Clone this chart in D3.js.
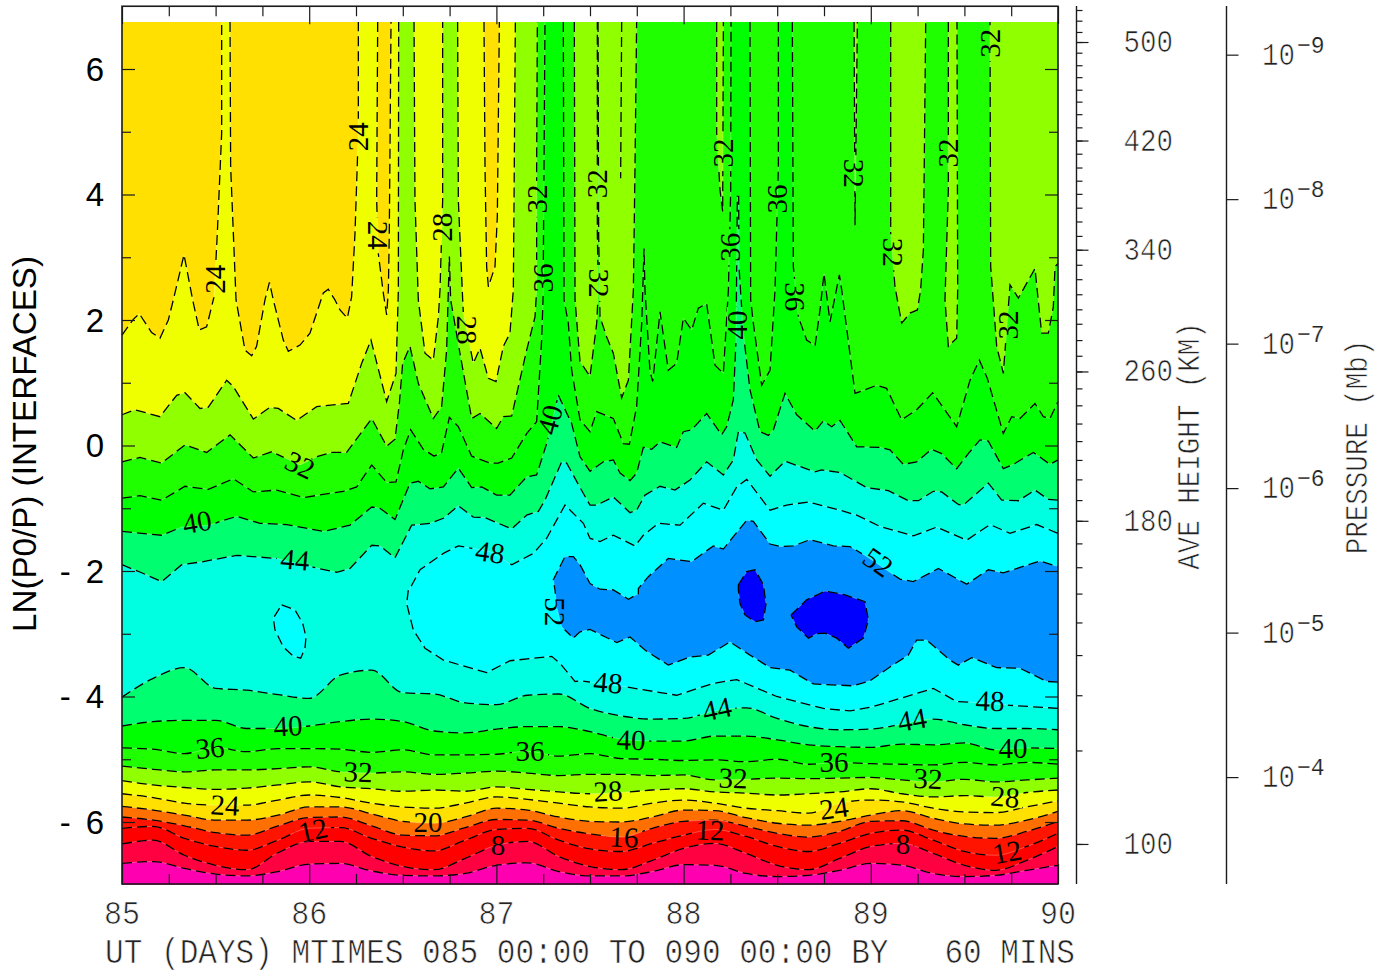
<!DOCTYPE html>
<html><head><meta charset="utf-8">
<script src="https://cdn.jsdelivr.net/npm/d3@7/dist/d3.min.js"></script>
<style>html,body{margin:0;padding:0;background:#fff}svg{display:block}text{white-space:pre}</style>
</head><body><svg id="c" width="1387" height="973"></svg>
<script>
// hours since start of day 85; LN(P0/P)
const TOP = 6.75;
const gridHours = d3.range(0, 121, 4);
const lower4 = [-6.66,-6.63,-6.74,-6.83,-6.86,-6.79,-6.67,-6.66,-6.78,-6.85,-6.86,-6.82,-6.69,-6.65,-6.79,-6.86,-6.86,-6.79,-6.68,-6.69,-6.82,-6.87,-6.85,-6.77,-6.66,-6.69,-6.82,-6.87,-6.85,-6.77,-6.69];
const lower8 = [-6.35,-6.29,-6.53,-6.69,-6.76,-6.49,-6.31,-6.31,-6.55,-6.71,-6.76,-6.58,-6.37,-6.31,-6.55,-6.71,-6.76,-6.61,-6.42,-6.34,-6.50,-6.69,-6.76,-6.58,-6.39,-6.34,-6.50,-6.69,-6.77,-6.61,-6.39];
const lower12 = [-6.10,-6.07,-6.26,-6.39,-6.45,-6.29,-6.10,-6.09,-6.26,-6.40,-6.46,-6.29,-6.12,-6.10,-6.29,-6.43,-6.47,-6.34,-6.21,-6.12,-6.23,-6.39,-6.47,-6.34,-6.18,-6.13,-6.29,-6.47,-6.53,-6.39,-6.18];
const lower16 = [-5.92,-5.97,-6.06,-6.17,-6.21,-6.06,-5.93,-5.92,-6.06,-6.21,-6.22,-6.09,-5.96,-5.97,-6.10,-6.19,-6.24,-6.10,-5.99,-5.97,-6.07,-6.18,-6.24,-6.15,-5.99,-5.98,-6.13,-6.23,-6.26,-6.15,-5.99];
const lower20 = [-5.75,-5.81,-5.89,-5.97,-5.97,-5.89,-5.76,-5.76,-5.87,-5.99,-6.02,-5.92,-5.78,-5.81,-5.92,-5.99,-6.00,-5.92,-5.81,-5.82,-5.93,-6.02,-6.05,-5.99,-5.89,-5.82,-5.94,-6.03,-6.05,-5.97,-5.83];
const lower24 = [-5.55,-5.61,-5.70,-5.73,-5.73,-5.65,-5.57,-5.61,-5.70,-5.76,-5.78,-5.70,-5.60,-5.64,-5.70,-5.76,-5.78,-5.70,-5.65,-5.70,-5.78,-5.82,-5.86,-5.70,-5.65,-5.68,-5.78,-5.84,-5.85,-5.76,-5.66];
const lower28 = [-5.34,-5.41,-5.45,-5.48,-5.46,-5.41,-5.36,-5.44,-5.47,-5.51,-5.49,-5.51,-5.44,-5.48,-5.52,-5.55,-5.53,-5.49,-5.47,-5.52,-5.54,-5.57,-5.55,-5.52,-5.47,-5.55,-5.60,-5.58,-5.60,-5.53,-5.49];
const lower32 = [-5.11,-5.16,-5.20,-5.17,-5.17,-5.15,-5.12,-5.20,-5.22,-5.20,-5.24,-5.22,-5.19,-5.22,-5.26,-5.24,-5.24,-5.26,-5.25,-5.33,-5.32,-5.30,-5.31,-5.30,-5.29,-5.33,-5.36,-5.32,-5.36,-5.33,-5.30];
const lower36 = [-4.82,-4.84,-4.91,-4.81,-4.88,-4.83,-4.83,-4.84,-4.89,-4.85,-4.93,-4.93,-4.92,-4.87,-4.95,-4.91,-4.99,-5.00,-5.02,-5.01,-5.04,-5.00,-5.08,-5.05,-5.07,-5.08,-5.09,-5.05,-5.09,-5.05,-5.08];
const lower40 = [-4.47,-4.40,-4.38,-4.38,-4.51,-4.51,-4.47,-4.40,-4.36,-4.40,-4.55,-4.58,-4.52,-4.48,-4.48,-4.56,-4.68,-4.71,-4.71,-4.63,-4.63,-4.69,-4.77,-4.80,-4.81,-4.76,-4.77,-4.74,-4.85,-4.82,-4.83];
const lower44 = [-4.01,-3.71,-3.54,-3.87,-3.90,-3.97,-4.03,-3.66,-3.58,-3.94,-3.96,-4.10,-4.13,-3.98,-3.96,-4.19,-4.31,-4.36,-4.35,-4.23,-4.18,-4.35,-4.48,-4.53,-4.52,-4.44,-4.36,-4.45,-4.51,-4.51,-4.53];

const upper24 = [[0,1.76],[1.45,2.01],[2.22,2.10],[3.8,1.80],[4.87,1.71],[5.94,2.00],[6.58,2.32],[7.95,3.04],[9.06,2.32],[9.91,1.84],[10.85,1.89],[11.8,2.37],[12.22,3.38],[12.78,4.98],[12.78,TOP],[13.85,TOP],[13.93,4.44],[14.62,2.32],[15.77,1.52],[16.62,1.43],[17.26,1.58],[18.33,2.32],[18.9,2.60],[19.4,2.32],[20.68,1.68],[21.32,1.50],[22.82,1.60],[24.1,1.79],[25.81,2.43],[26.45,2.49],[27.3,2.32],[27.95,2.16],[28.89,2.03],[29.44,2.37],[29.87,3.38],[30.3,4.98],[30.3,TOP],[32.78,TOP],[32.65,3.91],[32.86,3.06],[33.5,2.43],[33.93,2.08],[34.15,2.48],[34.27,3.38],[34.49,TOP],[46.41,TOP],[46.54,4.44],[46.75,2.85],[46.97,2.53],[47.82,2.85],[48.12,3.65],[48.38,TOP],[120,TOP]];
const upper28 = [[0,0.49],[1.67,0.57],[4.87,0.46],[7.01,0.80],[8.08,0.84],[10,0.59],[11.07,0.61],[13.42,1.04],[14.27,0.94],[16.84,0.42],[18.97,0.61],[20.04,0.59],[22.39,0.40],[24.96,0.62],[29.02,0.67],[30.73,1.31],[31.92,1.68],[33.93,0.70],[35.13,1.15],[35.43,2.48],[35.47,TOP],[37.44,TOP],[37.56,3.91],[37.99,2.32],[38.85,1.47],[39.91,1.36],[40.56,2.05],[40.77,2.48],[41.11,3.91],[41.11,TOP],[43.03,TOP],[43.12,3.91],[43.68,2.32],[43.76,2.11],[45.04,1.31],[45.9,1.55],[46.97,1.07],[47.95,1.02],[48.89,1.58],[49.74,1.79],[50.17,2.48],[50.26,3.91],[50.43,TOP],[120,TOP]];
const upper32 = [[0,-0.26],[2.31,-0.19],[5.09,-0.28],[8.08,0.01],[10.85,-0.11],[13.85,0.17],[16.84,-0.20],[19.19,-0.10],[22.82,-0.31],[24.96,-0.18],[26.88,-0.11],[28.8,-0.11],[32.01,0.43],[33.93,-0.01],[35,0.10],[35.56,0.67],[35.98,1.31],[36.92,1.58],[37.99,0.99],[39.91,0.43],[40.98,0.62],[41.62,1.52],[41.84,2.48],[41.97,3.01],[42.14,2.32],[43.33,1.47],[44.83,0.43],[45.9,0.51],[48.03,0.27],[48.89,0.46],[49.96,0.47],[51.88,1.52],[52.95,2.05],[53.16,2.48],[53.16,4.44],[53.25,TOP],[57.99,TOP],[58.08,2.32],[58.72,1.34],[60,1.10],[60.86,1.95],[61.07,2.48],[60.94,3.38],[60.94,TOP],[61.03,TOP],[61.11,3.38],[61.28,2.05],[62.14,1.73],[62.99,1.47],[64.06,0.76],[64.92,1.04],[65.56,2.48],[65.77,4.44],[65.98,TOP],[76.24,TOP],[76.24,4.98],[76.67,4.07],[77.01,3.73],[77.1,TOP],[93.85,TOP],[93.98,3.51],[94.28,TOP],[98.55,TOP],[98.55,3.38],[99.1,2.53],[99.96,1.95],[101.03,2.11],[101.97,2.16],[102.39,2.48],[102.74,3.12],[103.04,TOP],[105.94,TOP],[105.94,4.07],[105.51,2.32],[105.94,1.58],[107.01,1.71],[107.14,2.48],[107.05,TOP],[111.28,TOP],[111.37,2.85],[112.14,1.58],[112.99,1.15],[113.85,2.56],[114.92,2.35],[117.05,2.82],[117.9,1.79],[118.76,1.79],[119.4,2.21],[119.62,2.85],[120,2.9]];
const spur32 = [[64.06,TOP],[63.93,4.26]];
const upper36 = [[0,-0.84],[2.31,-0.80],[5.09,-0.87],[8.08,-0.65],[11.07,-0.70],[14.27,-0.53],[16.84,-0.74],[19.83,-0.71],[23.25,-0.83],[28.38,-0.73],[30.09,-0.66],[32.01,-0.31],[33.93,-0.59],[35.13,-0.58],[36.07,-0.07],[37.01,0.25],[38.63,-0.06],[40,-0.17],[40.98,-0.11],[41.97,0.45],[43.12,0.30],[44.83,-0.17],[47.18,-0.28],[48.25,-0.28],[49.96,-0.20],[51.88,0.19],[53.16,0.38],[53.8,1.68],[54.02,2.48],[54.02,2.96],[54.23,TOP],[56.58,TOP],[56.67,2.32],[57.22,1.95],[57.65,1.20],[58.29,0.73],[58.72,0.41],[60,0.22],[60.86,0.54],[62.99,0.43],[64.28,0.03],[65.05,0.02],[65.98,0.62],[66.63,1.95],[66.93,3.14],[67.05,2.48],[67.69,1.18],[68.04,1.02],[68.98,2.13],[70.04,1.20],[71.11,1.31],[71.97,2.03],[73.04,1.84],[73.89,2.19],[74.96,2.26],[76.03,1.28],[77.1,1.15],[77.74,2.48],[78.04,4.07],[78.08,TOP],[80.51,TOP],[80.6,2.32],[80.94,1.95],[82.01,0.96],[83.08,1.20],[83.72,2.48],[84.15,4.44],[84.15,TOP],[85.94,TOP],[86.07,2.85],[86.71,2.05],[87.78,1.68],[88.85,1.59],[89.49,2.16],[90,2.74],[90.77,1.97],[91.97,2.72],[92.27,2.48],[93.98,0.83],[94.62,0.86],[96.75,0.96],[98.03,0.91],[99.96,0.41],[101.88,0.57],[103.93,0.84],[107.01,0.30],[108.72,1.04],[109.92,1.36],[110.94,1.07],[112.99,0.19],[114.06,0.46],[115.13,0.43],[117.05,0.67],[118.12,0.46],[118.97,0.43],[120,0.70]];
const upper40 = [[0,-1.37],[5.09,-1.43],[7.65,-1.30],[11.28,-1.27],[12.56,-1.21],[14.7,-1.13],[17.69,-1.24],[21.11,-1.26],[25.81,-1.37],[29.23,-1.27],[32.01,-0.98],[33.08,-1.00],[35,-1.18],[36.92,-0.60],[37.99,-0.57],[39.49,-0.69],[41.2,-0.66],[43.12,-0.36],[44.83,-0.67],[46.11,-0.66],[48.03,-0.79],[49.74,-0.79],[51.88,-0.50],[53.16,-0.47],[54.44,0.03],[55.94,0.80],[57.65,0.35],[58.72,-0.18],[60,-0.41],[61.71,-0.26],[62.99,-0.23],[63.85,-0.44],[65.13,-0.56],[65.98,-0.44],[66.84,-0.03],[67.91,-0.06],[68.98,0.06],[71.11,-0.03],[71.97,0.22],[73.04,0.25],[74.96,0.51],[76.88,0.17],[77.52,0.30],[78.38,0.73],[78.72,1.68],[78.89,3.97],[79.06,3.97],[79.1,2.85],[79.66,1.79],[80.51,0.89],[81.8,0.22],[82.87,0.16],[83.51,0.25],[85,0.83],[86.5,0.49],[88.85,0.23],[89.92,0.39],[90.99,0.30],[92.05,0.40],[94.19,-0.02],[97.18,-0.03],[98.46,-0.07],[100.17,-0.30],[101.88,-0.26],[103.81,-0.06],[105.09,-0.13],[107.01,-0.37],[108.5,-0.13],[110,0.09],[111.07,0.07],[112.99,-0.37],[114.28,-0.30],[116.84,-0.11],[118.97,-0.30],[120,-0.23]];
const upper44 = [[0,-1.90],[2.74,-2.04],[5.09,-2.17],[7.65,-1.90],[10.43,-1.85],[14.7,-1.75],[19.83,-1.80],[24.1,-1.93],[27.52,-2.02],[29.23,-1.96],[32.01,-1.59],[33.08,-1.60],[35,-1.79],[37.14,-1.27],[39.49,-1.24],[41.2,-1.16],[43.12,-0.96],[45.04,-1.14],[46.54,-1.15],[49.96,-1.33],[51.88,-1.11],[53.38,-1.05],[54.23,-0.87],[56.37,-0.26],[57.01,-0.28],[58.72,-0.67],[60,-0.95],[60.86,-0.95],[62.99,-0.82],[65.13,-1.07],[65.98,-1.03],[67.05,-0.79],[68.98,-0.65],[70.9,-0.71],[72.82,-0.55],[74.96,-0.26],[77.1,-0.47],[78.38,-0.23],[79.02,0.22],[79.87,0.20],[81.37,-0.23],[83.08,-0.49],[85,-0.25],[88.85,-0.42],[89.7,-0.39],[92.05,-0.43],[95.47,-0.67],[98.25,-0.72],[100.81,-0.88],[102.1,-0.88],[104.02,-0.73],[105.09,-0.74],[107.22,-0.94],[107.87,-0.95],[111.07,-0.60],[112.78,-0.87],[114.92,-0.88],[117.05,-0.71],[118.76,-0.86],[120,-0.87]];
const ring48 = [[120,-4.19],[113.85,-4.14],[111.28,-4.11],[107.01,-4.08],[104.02,-3.87],[96.33,-4.16],[93.33,-4.23],[89.92,-4.19],[83.93,-4.00],[78.81,-3.73],[75.81,-3.79],[71.11,-3.98],[64.28,-3.84],[58.72,-3.75],[58.08,-3.76],[56.15,-3.47],[55.09,-3.36],[49.74,-3.43],[46.75,-3.62],[41.2,-3.42],[38.85,-3.23],[37.35,-2.94],[36.5,-2.52],[36.71,-2.30],[36.92,-2.28],[38.21,-1.98],[41.2,-1.72],[43.12,-1.60],[47.18,-1.69],[49.96,-1.90],[52.74,-1.72],[54.44,-1.48],[56.79,-0.95],[59.15,-1.24],[60,-1.48],[61.28,-1.53],[62.99,-1.43],[65.77,-1.60],[66.84,-1.43],[68.76,-1.24],[71.54,-1.27],[74.53,-0.92],[77.1,-1.03],[78.81,-0.66],[80.09,-0.54],[83.08,-1.03],[85.21,-0.95],[87.99,-0.90],[92.05,-1.03],[94.19,-1.11],[97.18,-1.29],[101.45,-1.44],[104.45,-1.30],[108.29,-1.51],[111.28,-1.26],[113.85,-1.40],[117.27,-1.26],[120,-1.40]];
const island48 = [[20.47,-2.54],[22.18,-2.62],[23.16,-2.83],[23.59,-3.05],[23.46,-3.23],[22.91,-3.39],[21.97,-3.36],[20.68,-3.21],[19.62,-2.94],[19.4,-2.75],[20.47,-2.54]];
const ring52 = [[120,-3.77],[118.55,-3.76],[115.13,-3.55],[112.14,-3.54],[108.93,-3.38],[107.22,-3.50],[106.15,-3.42],[103.16,-3.10],[101.88,-3.10],[100.81,-3.34],[98.46,-3.53],[95.9,-3.75],[93.76,-3.83],[88.63,-3.80],[85.64,-3.58],[83.08,-3.54],[80.51,-3.34],[77.95,-3.13],[75.17,-3.34],[72.82,-3.37],[70.04,-3.50],[67.05,-3.26],[65.13,-3.05],[63.42,-3.14],[60,-2.93],[58.72,-2.97],[57.86,-3.07],[56.37,-2.89],[55.73,-2.57],[55.51,-2.30],[55.3,-2.14],[56.79,-1.77],[57.86,-1.77],[58.72,-1.90],[60,-2.20],[61.28,-2.29],[62.99,-2.30],[64.92,-2.45],[66.2,-2.36],[66.2,-2.28],[67.48,-2.09],[70.04,-1.80],[73.04,-1.85],[75.81,-1.60],[77.1,-1.65],[80.09,-1.19],[80.94,-1.21],[83.08,-1.57],[84.36,-1.61],[86.07,-1.60],[88.21,-1.50],[91.2,-1.60],[93.33,-1.61],[95.47,-1.77],[99.75,-2.13],[101.45,-2.17],[104.66,-1.96],[108.29,-2.21],[111.07,-1.98],[112.99,-2.03],[117.69,-1.84],[120,-1.93]];
const ring56a = [[79.02,-2.22],[80.09,-2.01],[81.16,-1.98],[82.23,-2.22],[82.44,-2.41],[82.57,-2.52],[82.23,-2.78],[81.16,-2.81],[79.87,-2.70],[79.23,-2.52],[79.02,-2.30],[79.02,-2.22]];
const ring56b = [[85.77,-2.70],[87.78,-2.46],[90.13,-2.32],[92.69,-2.38],[95.26,-2.49],[95.69,-2.78],[95.05,-3.07],[93.12,-3.23],[91.63,-3.07],[90.13,-2.99],[89.06,-3.00],[88,-3.07],[86.5,-2.89],[85.77,-2.70]];

const bandColors = ["#ff00b0","#ff0040","#ff0000","#ff1400","#ff7000","#ffe000","#f0ff00","#90ff00","#20ff00","#00ff00","#00ff70","#00ffe0","#00ffff","#0090ff","#0000ff"];
const labelText = ["24","24","24","28","32","36","32","32","32","36","36","36","32","32","32","32","32","28","32","40","44","48","40","40","52","52","48","44","44","48","40","40","40","36","36","36","32","32","32","28","28","24","24","20","16","12","12","12","8","8"];
const labelHour = [11.92,30.26,32.82,41.03,53.21,53.97,60.9,61.15,77.05,77.95,83.97,86.28,93.85,98.85,105.9,111.28,113.59,44.23,22.82,9.62,22.18,47.18,54.87,78.85,96.92,55.51,62.31,76.28,101.28,111.28,21.28,65.26,114.23,11.28,52.31,91.28,30.26,78.33,103.33,62.31,113.21,13.21,91.28,39.23,64.36,24.49,75.38,113.46,48.21,100.13];
const labelLn = [2.65,4.92,3.35,3.48,3.93,2.67,4.17,2.59,4.66,3.16,3.93,2.37,4.34,3.08,4.66,6.41,1.92,1.84,-0.31,-1.22,-1.82,-1.70,0.41,1.92,-1.86,-2.65,-3.78,-4.20,-4.37,-4.07,-4.47,-4.69,-4.82,-4.82,-4.87,-5.04,-5.20,-5.30,-5.31,-5.51,-5.60,-5.73,-5.78,-6.00,-6.24,-6.13,-6.13,-6.48,-6.37,-6.35];
const labelAngle = [-90,-90,90,-90,-90,-90,-90,90,-90,-90,-90,90,90,90,-90,-90,-90,90,25,-10,5,8,-75,-90,35,90,5,-12,-10,2,-3,2,0,-5,0,0,2,2,3,-3,5,3,-8,0,3,-12,2,-10,0,0];

const dayTicks = [85,86,87,88,89,90];
const lnMajor = [6,4,2,0,-2,-4,-6];
const lnMinor = [5,3,1,-1,-3,-5];
const heightKm = d3.range(530,90,-10);
const heightLn = [6.94,6.77,6.59,6.43,6.26,6.06,5.87,5.67,5.48,5.28,5.07,4.86,4.65,4.43,4.22,4.01,3.79,3.57,3.34,3.12,2.88,2.65,2.41,2.17,1.94,1.68,1.43,1.18,0.91,0.64,0.35,0.07,-0.23,-0.54,-0.87,-1.20,-1.56,-1.94,-2.36,-2.82,-3.34,-3.98,-4.86,-6.35];
const heightLabels = [500,420,340,260,180,100];
const pressureTicks = [1e-9,1e-8,1e-7,1e-6,1e-5,1e-4];
const pressureExp = ["−9","−8","−7","−6","−5","−4"];
const P0 = 5.07e-7;

const x = d3.scaleLinear([0,120],[122,1058]);
const y = d3.scaleLinear([-7,7],[884.75,6.25]);
const svg = d3.select("#c");
const lin = d3.line().x(d=>x(d[0])).y(d=>y(d[1]));
const smooth = d3.line().x(d=>x(d[0])).y(d=>y(d[1])).curve(d3.curveMonotoneX);
const grid = a => a.map((v,i)=>[gridHours[i],v]);
const topEdge = [[0,TOP],[120,TOP]];

const lows = [lower4,lower8,lower12,lower16,lower20,lower24,lower28,lower32,lower36,lower40,lower44].map(grid);
const highs = [topEdge,topEdge,topEdge,topEdge,topEdge,upper24,upper28,upper32,upper36,upper40,upper44];

// base band
svg.append("path").attr("fill",bandColors[0])
  .attr("d", lin([[0,-7],[120,-7],[120,TOP],[0,TOP]])+"Z");
const gf = svg.append("g");
lows.forEach((lo,i)=>{
  const up = lin(highs[i].slice().reverse());
  gf.append("path").attr("fill",bandColors[i+1]).attr("d", smooth(lo)+"L"+up.slice(1)+"Z");
});
[[ring48,12],[island48,12],[ring52,13],[ring56a,14],[ring56b,14]].forEach(([r,c])=>{
  gf.append("path").attr("fill",bandColors[c]).attr("d",lin(r)+"Z");
});

// contour strokes (nothing along the flat top edge)
function pieces(pts){
  const out=[]; let cur=[pts[0]];
  for(let i=1;i<pts.length;i++){
    if(pts[i][1]===TOP && pts[i-1][1]===TOP){ if(cur.length>1) out.push(cur); cur=[pts[i]]; }
    else cur.push(pts[i]);
  }
  if(cur.length>1) out.push(cur);
  return out;
}
const strokes=[];
lows.forEach(l=>strokes.push(smooth(l)));
[upper24,upper28,upper32,upper36,upper40,upper44,spur32,ring48,island48,ring52,ring56a,ring56b].forEach(p=>pieces(p).forEach(q=>strokes.push(lin(q))));

// gaps in contours under the labels
const defs = svg.append("defs");
const gapMask = defs.append("mask").attr("id","gaps").attr("maskUnits","userSpaceOnUse")
  .attr("x",0).attr("y",0).attr("width",1387).attr("height",973);
gapMask.append("rect").attr("width",1387).attr("height",973).attr("fill","#fff");
labelText.forEach((t,i)=>{
  const w=t.length*15+6;
  gapMask.append("rect").attr("x",-w/2).attr("y",-10).attr("width",w).attr("height",20).attr("fill","#000")
    .attr("transform",`translate(${x(labelHour[i])},${y(labelLn[i])}) rotate(${labelAngle[i]})`);
});
const seam = svg.append("g").attr("fill","none").attr("stroke","#fff").attr("stroke-opacity",0.35).attr("stroke-width",0.8);
strokes.forEach(d=>seam.append("path").attr("d",d));
const gl = svg.append("g").attr("mask","url(#gaps)").attr("fill","none").attr("stroke","#000")
  .attr("stroke-width",1.3).attr("stroke-dasharray","10 5");
strokes.forEach(d=>gl.append("path").attr("d",d));

svg.append("g").selectAll("text").data(labelText).join("text")
  .attr("transform",(t,i)=>`translate(${x(labelHour[i])},${y(labelLn[i])}) rotate(${labelAngle[i]})`)
  .attr("dy","0.34em").attr("text-anchor","middle")
  .attr("font-family","'Liberation Serif'").attr("font-size",29).attr("fill","#000").text(t=>t);

// frame and ticks
const ink="#1a1a1a";
const frameTop=y(7), frameBottom=884;
function ticks(axis,tx,ty){
  const g=svg.append("g").attr("transform",`translate(${tx},${ty})`).call(axis);
  g.select(".domain").remove();
  g.selectAll("line").attr("stroke",ink).attr("stroke-width",1.2);
  g.selectAll("text").remove();
  return g;
}
const dayHour = dayTicks.map(d=>(d-85)*24);
const minorHours = d3.range(0,121,6).filter(h=>h%24);
ticks(d3.axisTop(x).tickValues(dayHour).tickSize(-18),0,frameTop);
ticks(d3.axisTop(x).tickValues(minorHours).tickSize(-10),0,frameTop);
ticks(d3.axisBottom(x).tickValues(dayHour).tickSize(-20),0,frameBottom);
ticks(d3.axisBottom(x).tickValues(minorHours).tickSize(-10),0,frameBottom);
ticks(d3.axisLeft(y).tickValues(lnMajor).tickSize(-13),122,0);
ticks(d3.axisLeft(y).tickValues(lnMinor).tickSize(-9),122,0);
ticks(d3.axisRight(y).tickValues(lnMajor).tickSize(-13),1058,0);
ticks(d3.axisRight(y).tickValues(lnMinor).tickSize(-9),1058,0);
svg.append("rect").attr("x",122).attr("y",frameTop).attr("width",936).attr("height",frameBottom-frameTop)
  .attr("fill","none").attr("stroke",ink).attr("stroke-width",1.6);

// left labels
svg.append("g").selectAll("text").data(lnMajor).join("text")
  .attr("x",d=>d<0?119:104).attr("y",d=>y(d)).attr("dy","0.35em").attr("text-anchor","end")
  .attr("letter-spacing",d=>d<0?"15px":"0")
  .attr("font-family","'Liberation Sans'").attr("font-size",33).attr("fill","#000").text(d=>d);
svg.append("text").attr("transform","translate(36,444) rotate(-90)").attr("text-anchor","middle")
  .attr("font-family","'Liberation Sans'").attr("font-size",33).attr("fill","#000")
  .attr("textLength",376).attr("lengthAdjust","spacingAndGlyphs").text("LN(P0/P) (INTERFACES)");

// thin mono text, stretched tall like the plotter font (a white outline thins the glyphs)
function mono(t,tx,ty,size,sy,anchor,rot,thin){
  return svg.append("text")
    .attr("transform",`translate(${tx},${ty})${rot?` rotate(${rot})`:""} scale(1,${sy})`)
    .attr("text-anchor",anchor).attr("font-family","'Liberation Mono'").attr("font-size",size)
    .attr("fill","#222").attr("stroke","#fff").attr("stroke-width",thin===undefined?0.6:thin).text(t);
}
dayTicks.forEach(d=>mono(String(d),x((d-85)*24),923.5,30,1.1,"middle"));
mono("UT (DAYS) MTIMES 085 00:00 TO 090 00:00 BY   60 MINS",590,962.5,31.1,1.12,"middle");

// height axis
const hScale = d3.scaleLinear(heightKm,heightLn.map(y));
svg.append("line").attr("x1",1076.5).attr("x2",1076.5).attr("y1",6).attr("y2",884).attr("stroke",ink).attr("stroke-width",1.4);
ticks(d3.axisRight(hScale).tickValues(heightKm).tickSize(6),1076.5,0);
ticks(d3.axisRight(hScale).tickValues(heightLabels).tickSize(12),1076.5,0);
heightLabels.forEach(h=>mono(String(h),1173,hScale(h)+10,27.5,1.12,"end"));
mono("AVE HEIGHT (KM)",1199,446,27.5,1.14,"middle",-90);

// pressure axis
const pScale = d3.scaleLog([1e-9,1e-4],[y(Math.log(P0/1e-9)),y(Math.log(P0/1e-4))]);
svg.append("line").attr("x1",1226.5).attr("x2",1226.5).attr("y1",6).attr("y2",884).attr("stroke",ink).attr("stroke-width",1.4);
ticks(d3.axisRight(pScale).tickValues(pressureTicks).tickSize(12),1226.5,0);
pressureTicks.forEach((p,i)=>{
  mono("10",1262,pScale(p)+10,27.5,1.12,"start");
  mono(pressureExp[i],1297,pScale(p)-2,23,1.05,"start",0,0.2);
});
mono("PRESSURE (Mb)",1367,447,27.5,1.14,"middle",-90);
</script></body></html>
